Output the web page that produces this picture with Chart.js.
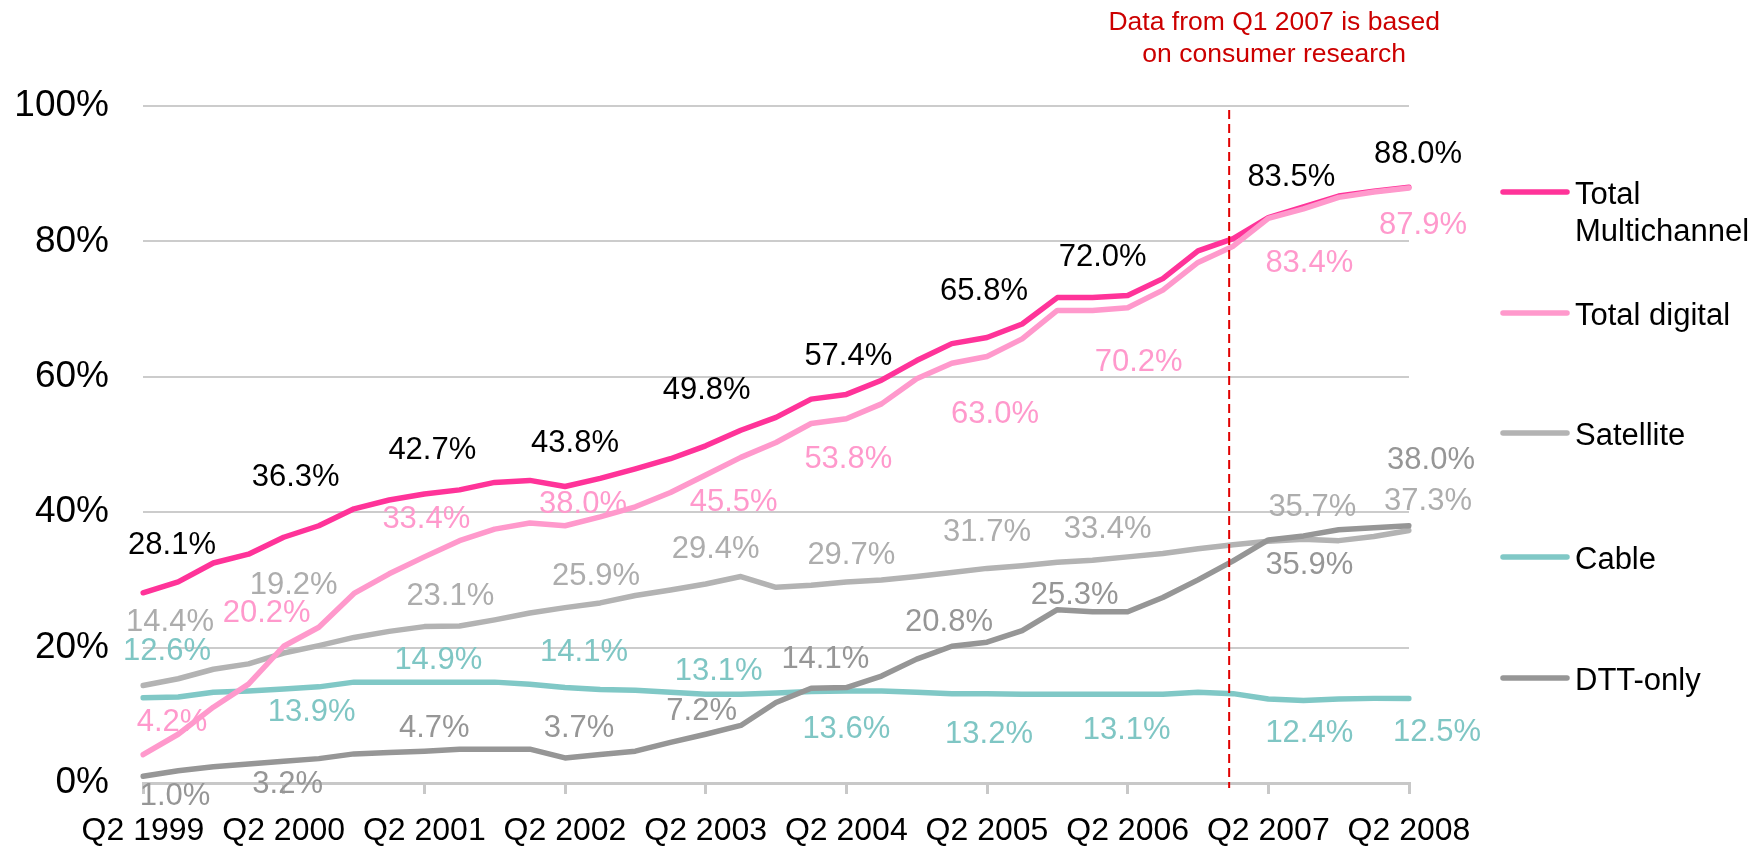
<!DOCTYPE html>
<html>
<head>
<meta charset="utf-8">
<script src="https://cdn.jsdelivr.net/npm/chart.js@4.4.1/dist/chart.umd.min.js"></script>
<style>
    html, body { margin: 0; padding: 0; background: #ffffff; }
    #contenedor { width: 1758px; height: 846px; }
</style>
</head>
<body>
<div id="contenedor"><canvas id="graficoTV" width="1758" height="846"></canvas></div>
<script>
// Trimestres (eje X)
const trimestres = [
    "Q2 1999", "Q3 1999", "Q4 1999", "Q1 2000", "Q2 2000", "Q3 2000", "Q4 2000", "Q1 2001",
    "Q2 2001", "Q3 2001", "Q4 2001", "Q1 2002", "Q2 2002", "Q3 2002", "Q4 2002", "Q1 2003",
    "Q2 2003", "Q3 2003", "Q4 2003", "Q1 2004", "Q2 2004", "Q3 2004", "Q4 2004", "Q1 2005",
    "Q2 2005", "Q3 2005", "Q4 2005", "Q1 2006", "Q2 2006", "Q3 2006", "Q4 2006", "Q1 2007",
    "Q2 2007", "Q3 2007", "Q4 2007", "Q1 2008", "Q2 2008"
];

// Etiquetas visibles del eje X y del eje Y
const ticksX = ["Q2 1999", "Q2 2000", "Q2 2001", "Q2 2002", "Q2 2003", "Q2 2004", "Q2 2005", "Q2 2006", "Q2 2007", "Q2 2008"];
const ticksY = [0, 20, 40, 60, 80, 100];

// Series (% de hogares)
const totalMultichannel = [28.1, 29.7, 32.5, 33.8, 36.3, 38.0, 40.5, 41.8, 42.7, 43.3, 44.4, 44.7, 43.8, 45.0, 46.4, 47.9,
    49.8, 52.1, 54.0, 56.7, 57.4, 59.5, 62.4, 64.9, 65.8, 67.8, 71.7, 71.7, 72.0, 74.5, 78.6, 80.4, 83.5, 85.1, 86.7, 87.4, 88.0];
const totalDigital = [4.2, 7.2, 11.2, 14.6, 20.2, 23.0, 28.0, 30.9, 33.4, 35.8, 37.5, 38.4, 38.0, 39.3, 40.8, 42.9,
    45.5, 48.1, 50.3, 53.1, 53.8, 56.0, 59.7, 62.0, 63.0, 65.6, 69.8, 69.8, 70.2, 72.8, 76.9, 79.3, 83.4, 84.8, 86.5, 87.3, 87.9];
const satellite = [14.4, 15.4, 16.8, 17.6, 19.2, 20.3, 21.5, 22.4, 23.1, 23.2, 24.1, 25.1, 25.9, 26.6, 27.7, 28.5,
    29.4, 30.5, 28.9, 29.2, 29.7, 30.0, 30.5, 31.1, 31.7, 32.1, 32.6, 32.9, 33.4, 33.9, 34.6, 35.2, 35.7, 36.0, 35.8, 36.4, 37.3];
const cable = [12.6, 12.7, 13.4, 13.6, 13.9, 14.2, 14.9, 14.9, 14.9, 14.9, 14.9, 14.6, 14.1, 13.8, 13.7, 13.4,
    13.1, 13.1, 13.3, 13.5, 13.6, 13.6, 13.4, 13.2, 13.2, 13.1, 13.1, 13.1, 13.1, 13.1, 13.4, 13.2, 12.4, 12.2, 12.4, 12.5, 12.5];
const dttOnly = [1.0, 1.8, 2.4, 2.8, 3.2, 3.6, 4.3, 4.5, 4.7, 5.0, 5.0, 5.0, 3.7, 4.2, 4.7, 6.0,
    7.2, 8.5, 11.9, 14.0, 14.1, 15.8, 18.3, 20.2, 20.8, 22.5, 25.6, 25.3, 25.3, 27.4, 30.0, 32.8, 35.9, 36.5, 37.4, 37.7, 38.0];

// Puntos con etiqueta de valor (cada Q2)
const indicesEtiqueta = [0, 4, 8, 12, 16, 20, 24, 28, 32, 36];

// Desplazamiento (px) del centro de cada etiqueta respecto a su punto
const despMulti = [[29, -50], [12, -62], [8, -46], [10, -46], [1, -58], [2, -41], [-3, -49], [-25, -41], [23, -43], [9, -35]];
const despDigital = [[29, -35], [-17, -35], [2, -40], [18, -24], [28, 25], [2, 38], [8, 55], [11, 52], [41, 43], [14, 35]];
const despSatellite = [[27, -66], [10, -70], [26, -33], [31, -34], [10, -37], [5, -29], [0, -38], [-20, -30], [44, -36], [19, -32]];
const despCable = [[24, -49], [28, 21], [14, -24], [19, -38], [13, -25], [0, 36], [2, 38], [-1, 34], [41, 32], [28, 32]];
const despDTT = [[32, 18], [4, 21], [10, -25], [14, -32], [-4, -25], [-21, -31], [-38, -22], [-53, -19], [41, 23], [22, -68]];

const FUENTE = '"Liberation Sans", Arial, sans-serif';
Chart.defaults.font.family = FUENTE;

// Etiquetas de valor sobre las lineas
const pluginEtiquetas = {
    id: 'etiquetasValor',
    afterDatasetsDraw(chart) {
        const ctx = chart.ctx;
        const size = 31;
        ctx.save();
        ctx.font = size + 'px ' + FUENTE;
        ctx.textAlign = 'center';
        ctx.textBaseline = 'alphabetic';
        chart.data.datasets.forEach((ds, d) => {
            const meta = chart.getDatasetMeta(d);
            ctx.fillStyle = ds.colorEtiqueta;
            indicesEtiqueta.forEach((idx, j) => {
                const p = meta.data[idx];
                const [dx, dy] = ds.desplazamientos[j];
                ctx.fillText(ds.data[idx].toFixed(1) + '%', p.x + dx, p.y + dy + size * 0.358);
            });
        });
        ctx.restore();
    }
};

// Linea discontinua de Q1 2007 y nota
const pluginNota = {
    id: 'notaQ1',
    afterDatasetsDraw(chart) {
        const ctx = chart.ctx;
        const area = chart.chartArea;
        const x = chart.scales.x.getPixelForValue(31) - 4;
        ctx.save();
        ctx.strokeStyle = '#E00000';
        ctx.lineWidth = 2;
        ctx.setLineDash([9, 5]);
        ctx.beginPath();
        ctx.moveTo(x, area.top + 4);
        ctx.lineTo(x, area.bottom + 5);
        ctx.stroke();
        ctx.setLineDash([]);
        ctx.fillStyle = '#CC0000';
        ctx.font = '26.5px ' + FUENTE;
        ctx.textAlign = 'center';
        ctx.textBaseline = 'alphabetic';
        ctx.fillText('Data from Q1 2007 is based', x + 45, area.top - 76);
        ctx.fillText('on consumer research', x + 45, area.top - 44);
        ctx.restore();
    }
};

// Leyenda a la derecha
const pluginLeyenda = {
    id: 'leyendaDerecha',
    afterDraw(chart) {
        const ctx = chart.ctx;
        const filas = [192, 313, 433, 557, 678];
        ctx.save();
        ctx.font = '31px ' + FUENTE;
        ctx.textAlign = 'left';
        ctx.textBaseline = 'alphabetic';
        chart.data.datasets.forEach((ds, d) => {
            const y = filas[d];
            ctx.strokeStyle = ds.borderColor;
            ctx.lineWidth = 5.5;
            ctx.lineCap = 'round';
            ctx.beginPath();
            ctx.moveTo(1503, y);
            ctx.lineTo(1567, y);
            ctx.stroke();
            ctx.fillStyle = '#000000';
            ds.textoLeyenda.forEach((t, k) => {
                ctx.fillText(t, 1575, y + 12 + k * 37);
            });
        });
        ctx.restore();
    }
};

const ctx = document.getElementById('graficoTV').getContext('2d');

new Chart(ctx, {
    type: 'line',
    data: {
        labels: trimestres,
        datasets: [
            { label: 'Total Multichannel', textoLeyenda: ['Total', 'Multichannel'], data: totalMultichannel,
              borderColor: '#FF3399', colorEtiqueta: '#000000', desplazamientos: despMulti, order: 1 },
            { label: 'Total digital', textoLeyenda: ['Total digital'], data: totalDigital,
              borderColor: '#FF99CC', colorEtiqueta: '#FF99CC', desplazamientos: despDigital, order: 0 },
            { label: 'Satellite', textoLeyenda: ['Satellite'], data: satellite,
              borderColor: '#B3B3B3', colorEtiqueta: '#ADADAD', desplazamientos: despSatellite, order: 3 },
            { label: 'Cable', textoLeyenda: ['Cable'], data: cable,
              borderColor: '#80C8C6', colorEtiqueta: '#7FC6C4', desplazamientos: despCable, order: 4 },
            { label: 'DTT-only', textoLeyenda: ['DTT-only'], data: dttOnly,
              borderColor: '#969696', colorEtiqueta: '#969696', desplazamientos: despDTT, order: 2 }
        ]
    },
    options: {
        responsive: false,
        animation: false,
        layout: { padding: { left: 0, right: 349, top: 106, bottom: 0 } },
        plugins: {
            legend: { display: false },
            tooltip: { enabled: false }
        },
        elements: {
            point: { radius: 0 },
            line: { tension: 0, borderWidth: 5.5, borderJoinStyle: 'round', borderCapStyle: 'round', fill: false }
        },
        scales: {
            x: {
                grid: { display: true, drawOnChartArea: false, drawTicks: true, tickLength: 11, color: '#C8C8C8', lineWidth: 3 },
                border: { display: true, color: '#C8C8C8', width: 3 },
                ticks: {
                    autoSkip: false,
                    maxRotation: 0,
                    padding: 18,
                    color: '#000000',
                    font: { size: 32 },
                    callback: function(valor, i) {
                        const t = trimestres[i];
                        return ticksX.includes(t) ? t : null;
                    }
                },
                afterFit: (escala) => { escala.height = 63; }
            },
            y: {
                min: ticksY[0],
                max: ticksY[ticksY.length - 1],
                ticks: {
                    stepSize: 20,
                    padding: 34,
                    color: '#000000',
                    font: { size: 37 },
                    callback: (v) => v + '%'
                },
                grid: { color: '#CCCCCC', lineWidth: 2, drawTicks: false },
                border: { display: false },
                afterFit: (escala) => { escala.width = 143; }
            }
        }
    },
    plugins: [pluginNota, pluginEtiquetas, pluginLeyenda]
});
</script>
</body>
</html>
